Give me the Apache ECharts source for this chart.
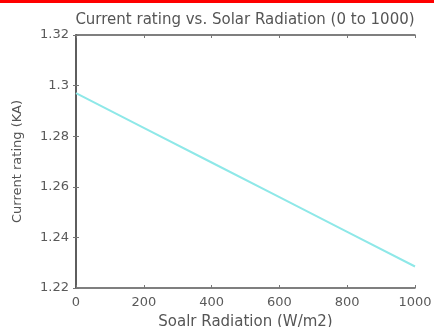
<!DOCTYPE html>
<html>
<head>
<meta charset="utf-8">
<script src="https://cdn.jsdelivr.net/npm/echarts@6/dist/echarts.min.js"></script>
<style>
  html, body { margin: 0; padding: 0; background: #fff; }
  #chart { width: 434px; height: 327px; }
</style>
</head>
<body>
<div id="chart"></div>
<script>
// data
var radiation = [0, 200, 400, 600, 800, 1000]
var currentRating = [1.297, 1.2833, 1.2696, 1.2559, 1.2422, 1.2285]
var xTicks = [0, 200, 400, 600, 800, 1000]
var yTicks = [1.22, 1.24, 1.26, 1.28, 1.3, 1.32]

var chart = echarts.init(document.getElementById('chart'))
var tickStyle = { color: '#5a5a5a', fontSize: 13, fontFamily: 'DejaVu Sans' }
var axisLineStyle = { lineStyle: { color: '#555', width: 1.5 } }
var tickLine = { inside: true, length: 3, lineStyle: { color: '#777' } }

chart.setOption({
  animation: false,
  title: {
    text: 'Current rating vs. Solar Radiation (0 to 1000)',
    left: 240,
    textAlign: 'center',
    top: 8,
    textStyle: { color: '#555', fontSize: 15, fontWeight: 'normal', fontFamily: 'DejaVu Sans' }
  },
  graphic: [{
    type: 'rect',
    shape: { x: 0, y: 0, width: 434, height: 3 },
    style: { fill: '#ff0000' }
  }],
  grid: { left: 76, right: 19, top: 35, bottom: 39, outerBoundsMode: 'none' },
  xAxis: [{
    type: 'value',
    min: 0, max: 1000, interval: 200,
    name: 'Soalr Radiation (W/m2)',
    nameLocation: 'middle',
    nameGap: 27,
    nameTextStyle: { color: '#555', fontSize: 15, fontFamily: 'DejaVu Sans' },
    axisLine: axisLineStyle,
    axisTick: tickLine,
    axisLabel: Object.assign({ margin: 8, formatter: function (v) { return xTicks.indexOf(v) >= 0 ? String(v) : '' } }, tickStyle),
    splitLine: { show: false }
  }, {
    type: 'value',
    position: 'top',
    min: 0, max: 1000, interval: 200,
    axisLine: axisLineStyle,
    axisTick: tickLine,
    axisLabel: { show: false },
    splitLine: { show: false }
  }],
  yAxis: [{
    type: 'value',
    min: 1.22, max: 1.32, interval: 0.02,
    name: 'Current rating (KA)',
    nameLocation: 'middle',
    nameGap: 52,
    nameTextStyle: { color: '#555', fontSize: 13, fontFamily: 'DejaVu Sans' },
    axisLine: axisLineStyle,
    axisTick: tickLine,
    axisLabel: Object.assign({ margin: 7, formatter: function (v) {
      var t = yTicks.find(function (y) { return Math.abs(y - v) < 1e-6 })
      return t === undefined ? '' : String(t)
    } }, tickStyle),
    splitLine: { show: false }
  }, {
    type: 'value',
    position: 'right',
    min: 1.22, max: 1.32, interval: 0.02,
    axisLine: axisLineStyle,
    axisTick: tickLine,
    axisLabel: { show: false },
    splitLine: { show: false }
  }],
  series: [{
    type: 'line',
    data: radiation.map(function (x, i) { return [x, currentRating[i]] }),
    showSymbol: false,
    lineStyle: { color: '#8ee8e8', width: 2 }
  }]
})
</script>
</body>
</html>
